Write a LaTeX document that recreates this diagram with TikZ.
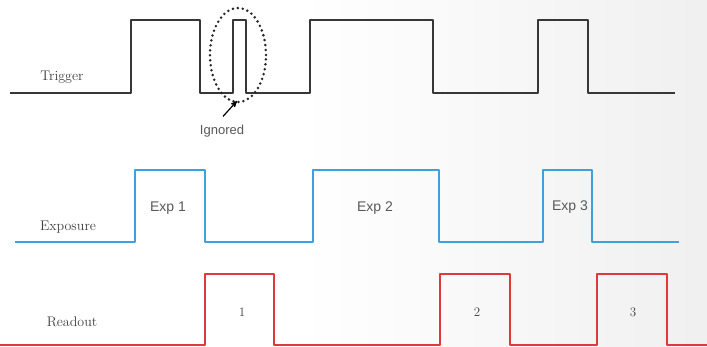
\documentclass[tikz,border=0pt]{standalone}
\usepackage{fontspec}
\newfontfamily\pulsefont{Liberation Sans}
\usetikzlibrary{arrows,positioning,shapes,calc}
\definecolor{expblue}{RGB}{62,160,222}
\definecolor{readred}{RGB}{222,58,58}
\definecolor{trigdark}{RGB}{55,55,55}

\begin{document}
\begin{tikzpicture}[x=1pt,y=-1pt,>=stealth',
  sig name/.style={text=black!75,font=\fontsize{14}{16}\selectfont},
  pulse name/.style={text=black!65,font=\pulsefont\fontsize{14}{16}\selectfont},
  frame name/.style={text=black!75,font=\fontsize{13}{15}\selectfont},
  wave/.style={line width=2pt,line join=round}]
\fill[white] (0,0) rectangle (300,347);
\shade[left color=white,right color=black!6] (300,0) rectangle (707,347);
\useasboundingbox (0,0) rectangle (707,347);
% signal names
\node[sig name] (trig) at (62,77) {Trigger};
\node[sig name] (expo) at (68,227) {Exposure};
\node[sig name] (read) at (72,322) {Readout};
% trigger
\draw[wave,color=trigdark] (10,93) -- (131,93) -- (131,20) -- (200,20) -- (200,93)
  -- (233,93) -- (233,20) -- (246,20) -- (246,93) -- (310,93) -- (310,20)
  -- (433,20) -- (433,93) -- (538,93) -- (538,20) -- (588,20) -- (588,93) -- (675,93);
\node[draw,ellipse,minimum width=56,minimum height=94,line width=2.8pt,
  dash pattern=on 0pt off 5pt,line cap=round,color=black!85] (ign) at (238,55) {};
\node[pulse name,font=\pulsefont\fontsize{13}{15}\selectfont] (ignl) at (222,131) {Ignored};
\coordinate (ignp) at (237,101);
\draw[->,line width=1.2pt] ($(ignl.north)+(1,-5)$) -- (ignp);
% exposure
\draw[wave,color=expblue] (15,242) -- (135,242) -- (135,170) -- (205,170) -- (205,242)
  -- (313,242) -- (313,170) -- (439,170) -- (439,242) -- (543,242) -- (543,170)
  -- (592,170) -- (592,242) -- (679,242);
\node[pulse name] (e1) at (168,208) {Exp 1};
\node[pulse name] (e2) at (375,208) {Exp 2};
\node[pulse name] (e3) at (570,207) {Exp 3};
% readout
\draw[wave,color=readred] (0,345) -- (205,345) -- (205,274) -- (274,274) -- (274,345)
  -- (440,345) -- (440,274) -- (510,274) -- (510,345) -- (597,345) -- (597,274)
  -- (667,274) -- (667,345) -- (707,345);
\node[frame name] (r1) at (242,312) {1};
\node[frame name] (r2) at (477,312) {2};
\node[frame name] (r3) at (633,312) {3};
\end{tikzpicture}
\end{document}
